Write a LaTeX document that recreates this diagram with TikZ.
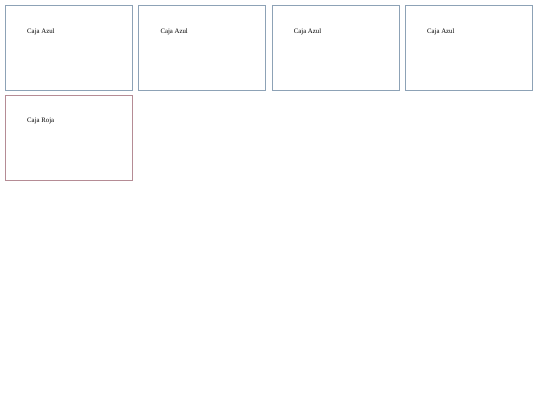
\documentclass[tikz,border=0pt]{standalone}
\usepackage{fontspec}
\setmainfont{Liberation Serif}
\usepackage{xcolor}
\definecolor{azulborde}{HTML}{8DA2B6}
\definecolor{rojoborde}{HTML}{B58C95}
\begin{document}
\begin{tikzpicture}[x=1pt,y=-1pt,
    caja/.style={draw=#1, line width=0.8pt},
    etiqueta/.style={anchor=base west, inner sep=0pt, font=\fontsize{6.8}{8}\selectfont}]
        \useasboundingbox (0,0) rectangle (540,405);
        % row 1: blue boxes
        \foreach \i in {0,...,3}{
          \draw[caja=azulborde] ({5.5+133.3*\i},5.5) rectangle ++(127,84.5);
          \node[etiqueta] (azul\i) at ({27+133.3*\i},33) {Caja Azul};
        }
        % row 2: red box
        \draw[caja=rojoborde] (5.5,95.5) rectangle ++(127,84.5);
        \node[etiqueta] (roja) at (27,122) {Caja Roja};
\end{tikzpicture}
\end{document}
